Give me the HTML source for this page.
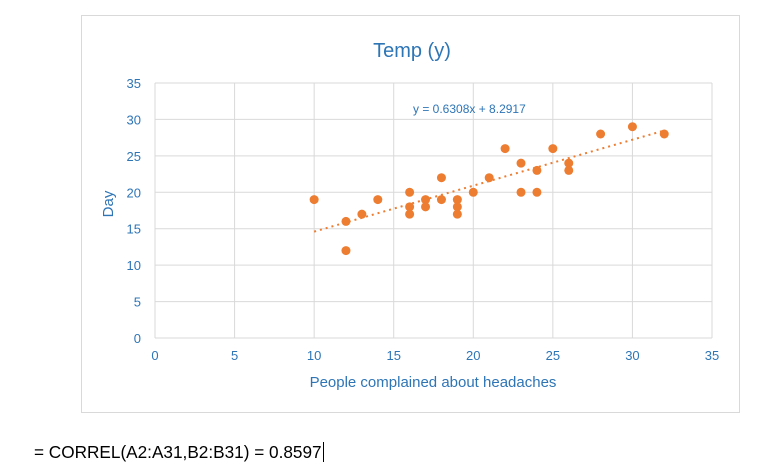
<!DOCTYPE html>
<html><head><meta charset="utf-8"><style>
body{margin:0;background:#fff;width:784px;height:475px;overflow:hidden;font-family:"Liberation Sans",sans-serif}
#box{position:absolute;left:81px;top:15px;width:657px;height:396px;border:1px solid #d9d9d9}
#formula{position:absolute;left:34px;top:442px;font-size:17.2px;color:#000}
</style></head><body>
<div id="box"></div>
<svg id="chart" width="784" height="475" style="position:absolute;left:0;top:0"></svg>
<div id="formula">= CORREL(A2:A31,B2:B31) = 0.8597<span style="border-left:1px solid #000;margin-left:1px"></span></div>
<script>
const xs=[10,12,12,13,14,16,16,16,17,17,18,18,19,19,19,20,21,22,23,23,24,24,25,26,26,28,30,32];
const ys=[19,16,12,17,19,20,18,17,19,18,22,19,19,18,17,20,22,26,24,20,23,20,26,24,23,28,29,28];
const xTicks=[0,5,10,15,20,25,30,35];
const yTicks=[0,5,10,15,20,25,30,35];
const slope=0.6308, intercept=8.2917;
const NS="http://www.w3.org/2000/svg";
const svg=document.getElementById('chart');
const X=v=>155+v*(557/35), Y=v=>338-v*(255/35);
function mk(t,a){const e=document.createElementNS(NS,t);for(const k in a)e.setAttribute(k,a[k]);svg.appendChild(e);return e;}
xTicks.forEach(t=>{
 const l=mk('line',{x1:X(t),x2:X(t),y1:Y(0),y2:Y(35),stroke:'#d9d9d9'});
 
 
 const tx=mk('text',{x:X(t),y:360,'text-anchor':'middle','font-size':13,fill:'#2e75b6'});tx.textContent=t;
 
 
});
yTicks.forEach(t=>{
 const l=mk('line',{x1:X(0),x2:X(35),y1:Y(t),y2:Y(t),stroke:'#d9d9d9'});
 
 
 const tx=mk('text',{x:141,y:Y(t)+5,'text-anchor':'end','font-size':13,fill:'#2e75b6'});tx.textContent=t;
 
 
});
const xmin=Math.min(...xs), xmax=Math.max(...xs);
const tl=mk('line',{x1:X(xmin),y1:Y(slope*xmin+intercept),x2:X(xmax),y2:Y(slope*xmax+intercept),stroke:'#ed7d31','stroke-width':2,'stroke-dasharray':'2 4'});


xs.forEach((x,i)=>{
 const c=mk('circle',{cx:X(x),cy:Y(ys[i]),r:4.5,fill:'#ed7d31'});
 
 
});
const eq=mk('text',{x:413,y:113,'font-size':12,fill:'#2e75b6'});eq.textContent='y = 0.6308x + 8.2917';


const ti=mk('text',{x:412,y:57,'text-anchor':'middle','font-size':20,fill:'#2e75b6'});ti.textContent='Temp (y)';


const xt=mk('text',{x:433,y:387,'text-anchor':'middle','font-size':15,fill:'#2e75b6'});xt.textContent='People complained about headaches';


const yt=mk('text',{x:0,y:0,'text-anchor':'middle','font-size':15,fill:'#2e75b6',transform:'translate(113,204) rotate(-90)'});yt.textContent='Day';


</script>
</body></html>
